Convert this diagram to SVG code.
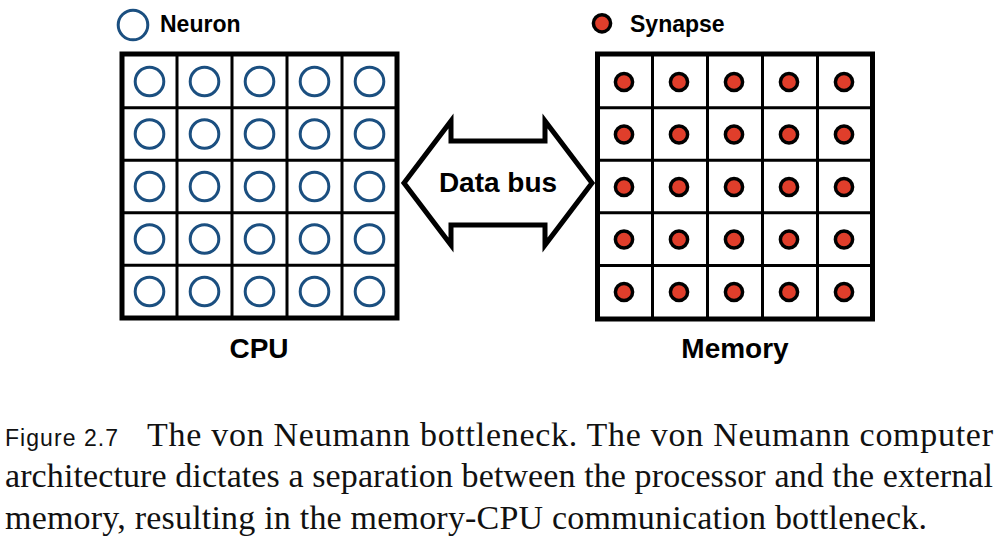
<svg xmlns="http://www.w3.org/2000/svg" width="1000" height="541" viewBox="0 0 1000 541">
<style>
.lbl{font-family:"Liberation Sans",Arial,sans-serif;font-weight:bold;fill:#000}
.neu{fill:none;stroke:#1b4f80;stroke-width:3}
.syn{fill:#e03e2b;stroke:#000;stroke-width:3.5}
.frame{fill:#fff;stroke:#000;stroke-width:5}
.div{stroke:#000;stroke-width:3}
.cap{font-family:"Liberation Serif","Times New Roman",serif;font-size:34px;fill:#111}
.capsans{font-family:"Liberation Sans",Arial,sans-serif;font-size:23px;fill:#111}
</style>
<rect width="1000" height="541" fill="#fff"/>

<g id="legend-neuron">
<circle class="neu" cx="133" cy="25" r="14.8"/>
<text class="lbl" x="160" y="32" font-size="23">Neuron</text>
</g>
<g id="legend-synapse">
<circle class="syn" cx="602" cy="23.3" r="8.6"/>
<text class="lbl" x="630" y="32" font-size="23">Synapse</text>
</g>

<g id="cpu">
<rect class="frame" x="122" y="54" width="275" height="264"/>
<path class="div" d="M177 54V318M232 54V318M287 54V318M342 54V318M122 107.75H397M122 160.25H397M122 212.75H397M122 265.25H397"/>
<g>
<circle class="neu" cx="149.5" cy="81.5" r="14.3"/><circle class="neu" cx="204.5" cy="81.5" r="14.3"/><circle class="neu" cx="259.5" cy="81.5" r="14.3"/><circle class="neu" cx="314.5" cy="81.5" r="14.3"/><circle class="neu" cx="369.5" cy="81.5" r="14.3"/>
<circle class="neu" cx="149.5" cy="134" r="14.3"/><circle class="neu" cx="204.5" cy="134" r="14.3"/><circle class="neu" cx="259.5" cy="134" r="14.3"/><circle class="neu" cx="314.5" cy="134" r="14.3"/><circle class="neu" cx="369.5" cy="134" r="14.3"/>
<circle class="neu" cx="149.5" cy="186.5" r="14.3"/><circle class="neu" cx="204.5" cy="186.5" r="14.3"/><circle class="neu" cx="259.5" cy="186.5" r="14.3"/><circle class="neu" cx="314.5" cy="186.5" r="14.3"/><circle class="neu" cx="369.5" cy="186.5" r="14.3"/>
<circle class="neu" cx="149.5" cy="239" r="14.3"/><circle class="neu" cx="204.5" cy="239" r="14.3"/><circle class="neu" cx="259.5" cy="239" r="14.3"/><circle class="neu" cx="314.5" cy="239" r="14.3"/><circle class="neu" cx="369.5" cy="239" r="14.3"/>
<circle class="neu" cx="149.5" cy="291.5" r="14.3"/><circle class="neu" cx="204.5" cy="291.5" r="14.3"/><circle class="neu" cx="259.5" cy="291.5" r="14.3"/><circle class="neu" cx="314.5" cy="291.5" r="14.3"/><circle class="neu" cx="369.5" cy="291.5" r="14.3"/>
</g>
<text class="lbl" x="259" y="358" font-size="28" text-anchor="middle">CPU</text>
</g>

<g id="memory">
<rect class="frame" x="597.5" y="54" width="275" height="265"/>
<path class="div" d="M652.5 54V319M707.5 54V319M762.5 54V319M817.5 54V319M597.5 107.75H872.5M597.5 160.25H872.5M597.5 212.75H872.5M597.5 265.5H872.5"/>
<g>
<circle class="syn" cx="624" cy="82" r="8.6"/><circle class="syn" cx="679" cy="82" r="8.6"/><circle class="syn" cx="734" cy="82" r="8.6"/><circle class="syn" cx="789" cy="82" r="8.6"/><circle class="syn" cx="844" cy="82" r="8.6"/>
<circle class="syn" cx="624" cy="134.5" r="8.6"/><circle class="syn" cx="679" cy="134.5" r="8.6"/><circle class="syn" cx="734" cy="134.5" r="8.6"/><circle class="syn" cx="789" cy="134.5" r="8.6"/><circle class="syn" cx="844" cy="134.5" r="8.6"/>
<circle class="syn" cx="624" cy="187" r="8.6"/><circle class="syn" cx="679" cy="187" r="8.6"/><circle class="syn" cx="734" cy="187" r="8.6"/><circle class="syn" cx="789" cy="187" r="8.6"/><circle class="syn" cx="844" cy="187" r="8.6"/>
<circle class="syn" cx="624" cy="239.5" r="8.6"/><circle class="syn" cx="679" cy="239.5" r="8.6"/><circle class="syn" cx="734" cy="239.5" r="8.6"/><circle class="syn" cx="789" cy="239.5" r="8.6"/><circle class="syn" cx="844" cy="239.5" r="8.6"/>
<circle class="syn" cx="624" cy="292" r="8.6"/><circle class="syn" cx="679" cy="292" r="8.6"/><circle class="syn" cx="734" cy="292" r="8.6"/><circle class="syn" cx="789" cy="292" r="8.6"/><circle class="syn" cx="844" cy="292" r="8.6"/>
</g>
<text class="lbl" x="735" y="358" font-size="28" text-anchor="middle">Memory</text>
</g>

<g id="connectors">
<g id="data-bus">
<path d="M404 183 L451 121 L451 141 L545 141 L545 121 L592 183 L545 245 L545 225 L451 225 L451 245 Z" fill="#fff" stroke="#000" stroke-width="5" stroke-linejoin="miter" stroke-miterlimit="10"/>
<text class="lbl" x="498" y="191.5" font-size="28" text-anchor="middle">Data bus</text>
</g>
</g>

<g id="caption">
<text class="capsans" x="5" y="446" textLength="113" lengthAdjust="spacing">Figure 2.7</text>
<text class="cap" x="147" y="446" textLength="846" lengthAdjust="spacing">The von Neumann bottleneck. The von Neumann computer</text>
<text class="cap" x="5" y="487" textLength="988" lengthAdjust="spacing">architecture dictates a separation between the processor and the external</text>
<text class="cap" x="5" y="529" textLength="922" lengthAdjust="spacing">memory, resulting in the memory-CPU communication bottleneck.</text>
</g>
</svg>
